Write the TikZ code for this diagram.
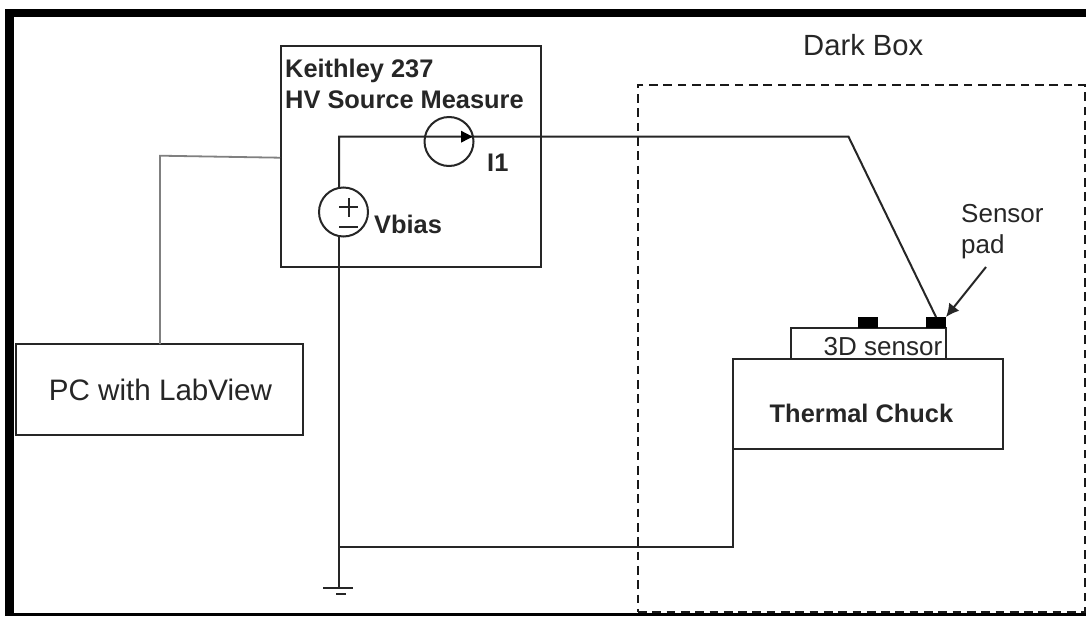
\documentclass[tikz,border=0pt]{standalone}
\usepackage{fontspec}
\setmainfont{Liberation Sans}
\usetikzlibrary{arrows.meta}
\tikzset{
  x=1pt,y=-1pt,
  box/.style={draw=black!85,line width=2pt,fill=white,inner sep=0pt,outer sep=0pt,anchor=north west},
  wire/.style={draw=black!85,line width=2pt},
  lbl/.style={inner sep=0pt,text=black!85,font=\fontsize{26}{30}\selectfont,anchor=base west},
  blbl/.style={lbl,font=\fontsize{25.4}{30}\selectfont\bfseries},
  src/.style={circle,draw=black!85,line width=2pt,minimum size=49pt,inner sep=0pt,outer sep=0pt},
  pad/.style={fill=black,inner sep=0pt,outer sep=0pt,anchor=north west,minimum width=20pt,minimum height=11pt}
}
\begin{document}
\begin{tikzpicture}
\useasboundingbox (0,0) rectangle (1086,616);
\fill[white] (0,0) rectangle (1086,616);
% outer frame
\fill[black] (5,9) rectangle (1086,17);
\fill[black] (5,9) rectangle (14,616);
\fill[black] (5,613) rectangle (1086,615.5);
% dark box
\node[draw=black!90,line width=2.2pt,dash pattern=on 8.7pt off 5.6pt,inner sep=0pt,outer sep=0pt,minimum width=447pt,minimum height=527pt,anchor=north west] (dark) at (638,85) {};
\node[lbl,font=\fontsize{29.2}{34}\selectfont] (darklbl) at (803,55.5) {Dark Box};
% boxes
\node[box,minimum width=260pt,minimum height=221.5pt] (keith) at (280.7,45.7) {};
\node[box,minimum width=287pt,minimum height=91pt] (pc) at (16,344) {};
\node[font=\fontsize{29.6}{34}\selectfont,text=black!85,inner sep=0pt] (pclbl) at (160.5,389.5) {PC with LabView};
\node[box,minimum width=155pt,minimum height=31pt] (sensor) at (791,328) {};
\node[box,minimum width=270pt,minimum height=90pt] (chuck) at (733,359) {};
\node[pad] (pad1) at (858,317) {};
\node[pad] (pad2) at (926,317) {};
\node[lbl] (sensorlbl) at (823.5,355) {3D sensor};
\node[blbl] (chucklbl) at (769.5,422.3) {Thermal Chuck};
\node[lbl] (sp1) at (961,222) {Sensor};
\node[lbl] (sp2) at (961,253) {pad};
\node[blbl] (k1) at (285,77.5) {Keithley 237};
\node[blbl] (k2) at (285,108.5) {HV Source Measure};
\node[blbl] (i1lbl) at (487,171) {I1};
\node[blbl] (vlbl) at (374,233) {Vbias};
% sources
\node[src] (i1) at (449,141.5) {};
\node[src] (vb) at (343.5,212) {};
\draw[black!85,line width=2pt] (339,207) -- (358,207) (348.5,198) -- (348.5,217)
  (339,227) -- (358,227);
% wires
\coordinate (bend) at (848.5,136.7);
\coordinate (corner) at (339,136.7);
\coordinate (gnd) at (339,588);
\coordinate (junction) at (339,547);
\coordinate (pcup) at (160,155.7);
\coordinate (pcend) at (280,157.7);
\coordinate (g1l) at (323,588);
\coordinate (g1r) at (353,588);
\coordinate (g2l) at (336,594);
\coordinate (g2r) at (346,594);
\draw[wire] (vb.north -| corner) -- (corner) -- (bend) -- (pad2.north);
\draw[wire] (vb.south -| corner) -- (gnd);
\draw[wire] (g1l) -- (g1r);
\draw[wire,line width=2.4pt] (g2l) -- (g2r);
\draw[wire] (junction) -- (junction -| chuck.west) -- (chuck.south west);
\fill[black] (472.5,136.7) -- (461,130.7) -- (461,142.7) -- cycle;
\draw[draw=black!50,line width=1.8pt] (pc.north -| pcup) -- (pcup) -- (pcend);
\coordinate (arrowstart) at (986,267);
\draw[wire,-{Latex[length=13pt,width=13pt]}] (arrowstart) -- (pad2.north east);
\end{tikzpicture}
\end{document}
